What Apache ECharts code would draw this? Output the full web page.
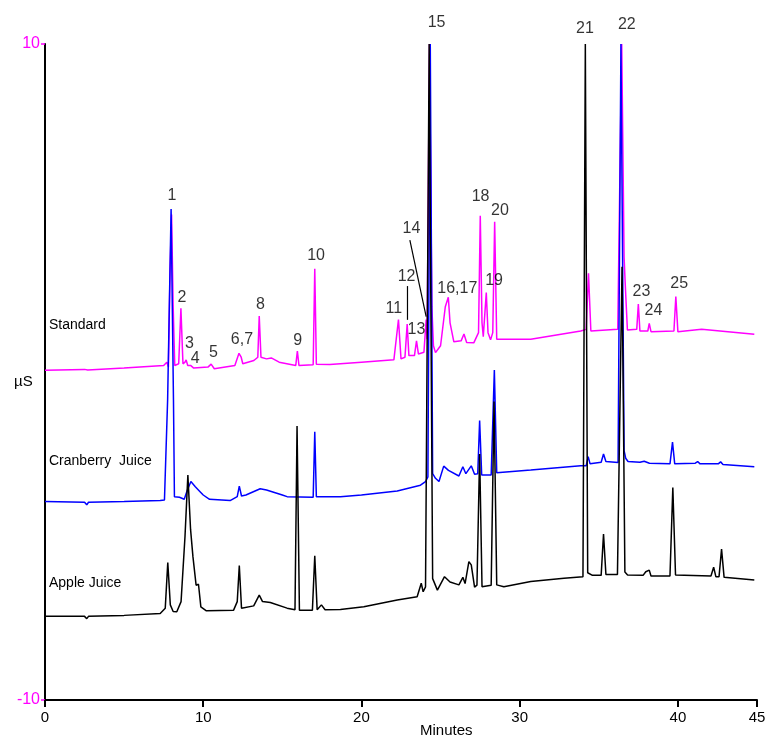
<!DOCTYPE html>
<html>
<head>
<meta charset="utf-8">
<title>Juice chromatograms</title>
<script src="https://cdn.jsdelivr.net/npm/echarts@6/dist/echarts.min.js"></script>
<style>
body { margin: 0; background: #fff; }
#chart { width: 768px; height: 740px; }
</style>
</head>
<body>
<div id="chart"></div>
<script>
// retention time (min), conductivity (µS)
var standardTrace = [
  [0,0.05],[2.5,0.08],[2.6,0.12],[2.7,0.06],[5,0.12],[7.5,0.2],[7.7,0.3],[7.8,0.15],[7.9,3],[8.0,4.8],[8.1,2],[8.2,0.2],
  [8.45,0.25],[8.59,1.94],[8.72,0.25],[8.85,0.3],[8.92,0.37],[9.02,0.2],[9.2,0.2],[9.28,0.23],[9.4,0.12],[10.3,0.15],
  [10.5,0.24],[10.7,0.1],[12.0,0.2],[12.26,0.57],[12.4,0.45],[12.5,0.25],[13.2,0.35],[13.45,0.45],[13.54,1.71],[13.65,0.45],
  [14.0,0.4],[14.3,0.43],[14.8,0.3],[15.85,0.2],[15.95,0.64],[16.05,0.2],[16.95,0.22],[17.05,3.15],[17.15,0.24],[18.0,0.23],
  [20,0.3],[22.05,0.37],[22.34,1.6],[22.5,0.4],[22.75,0.45],[22.89,1.46],[23.0,0.5],[23.35,0.5],[23.48,0.95],[23.6,0.55],
  [23.95,0.6],[24.09,1.6],[24.15,1.0],[24.3,10],[24.45,2.0],[24.55,0.8],[24.68,0.59],[25.0,0.8],[25.3,1.99],[25.49,2.28],
  [25.6,1.5],[25.84,0.92],[26.3,0.95],[26.48,1.16],[26.65,0.9],[27.1,0.89],[27.4,1.2],[27.51,4.76],[27.62,1.5],[27.7,1.08],
  [27.89,2.42],[28.0,1.2],[28.16,0.98],[28.3,1.2],[28.42,4.58],[28.55,1.0],[30.7,1.0],[33.86,1.25],[34.2,1.3],[34.35,3.01],
  [34.5,1.25],[36.2,1.3],[36.45,10],[36.6,3.5],[36.67,2.7],[36.81,1.28],[37.4,1.3],[37.5,2.07],[37.6,1.25],[38.1,1.25],
  [38.19,1.48],[38.3,1.23],[39.75,1.25],[39.87,2.3],[40.0,1.23],[41.5,1.3],[44.83,1.15]
];
var cranberryTrace = [
  [0,-3.95],[2.5,-3.97],[2.64,-4.05],[2.75,-3.97],[5,-3.95],[7.28,-3.92],[7.55,-3.9],[7.75,-0.85],[7.97,4.97],[8.12,-0.85],
  [8.18,-3.8],[8.5,-3.82],[8.8,-3.88],[9.0,-3.6],[9.22,-3.34],[9.5,-3.5],[9.8,-3.65],[10.0,-3.75],[10.4,-3.88],[11.7,-3.92],
  [12.15,-3.8],[12.28,-3.48],[12.42,-3.78],[12.7,-3.75],[13.6,-3.56],[14.0,-3.6],[15.0,-3.75],[15.3,-3.8],[16.95,-3.82],
  [17.05,-1.82],[17.15,-3.8],[18.67,-3.8],[20,-3.75],[22.26,-3.63],[23.73,-3.45],[24.05,-3.34],[24.2,-3.2],[24.35,10],
  [24.5,-3.1],[24.68,-3.24],[24.9,-3.34],[25.2,-2.87],[25.5,-3.0],[26.16,-3.17],[26.41,-2.89],[26.6,-3.1],[26.94,-2.86],
  [27.15,-3.12],[27.35,-3.1],[27.47,-1.48],[27.6,-3.14],[28.2,-3.14],[28.4,0.06],[28.55,-3.07],[30.7,-2.99],[33.86,-2.86],
  [34.2,-2.86],[34.33,-2.58],[34.45,-2.8],[35.15,-2.75],[35.3,-2.5],[35.45,-2.73],[36.22,-2.76],[36.4,10],[36.6,-2.4],
  [36.7,-2.63],[36.85,-2.73],[37.6,-2.75],[37.87,-2.72],[38.2,-2.78],[39.5,-2.8],[39.66,-2.14],[39.8,-2.8],[41.1,-2.78],
  [41.25,-2.73],[41.4,-2.8],[42.55,-2.8],[42.7,-2.74],[42.85,-2.82],[44.83,-2.89]
];
var appleTrace = [
  [0,-7.45],[2.5,-7.45],[2.64,-7.52],[2.75,-7.45],[5,-7.42],[7.28,-7.36],[7.6,-7.2],[7.76,-5.81],[7.92,-7.1],[8.1,-7.3],
  [8.33,-7.31],[8.6,-7.0],[8.85,-5.0],[9.03,-3.14],[9.2,-4.8],[9.35,-5.63],[9.55,-6.5],[9.7,-6.47],[9.85,-7.16],[10.2,-7.28],
  [11.92,-7.26],[12.15,-7.0],[12.28,-5.9],[12.42,-7.2],[13.19,-7.13],[13.54,-6.8],[13.75,-7.0],[14.24,-7.03],[15.3,-7.2],
  [15.8,-7.25],[15.93,-1.65],[16.08,-7.26],[16.9,-7.26],[17.05,-5.6],[17.2,-7.25],[17.47,-7.1],[17.7,-7.25],[18.67,-7.24],
  [20.15,-7.16],[22.26,-6.95],[23.52,-6.85],[23.78,-6.44],[23.9,-6.7],[24.05,-6.55],[24.28,10],[24.5,-6.3],[24.58,-6.39],
  [24.8,-6.65],[25.25,-6.24],[25.6,-6.4],[26.16,-6.49],[26.41,-6.26],[26.55,-6.45],[26.79,-5.78],[26.94,-5.88],[27.15,-6.56],
  [27.3,-6.5],[27.47,-2.5],[27.62,-6.55],[28.2,-6.5],[28.38,-0.9],[28.55,-6.49],[29.0,-6.55],[30.7,-6.39],[32.8,-6.29],
  [34.0,-6.24],[34.15,10],[34.3,-6.12],[34.6,-6.2],[35.15,-6.2],[35.3,-4.94],[35.45,-6.17],[36.18,-6.17],[36.47,3.21],
  [36.65,-6.1],[36.82,-6.19],[37.8,-6.2],[37.97,-6.09],[38.19,-6.04],[38.3,-6.22],[39.5,-6.22],[39.68,-3.52],[39.85,-6.19],
  [42.09,-6.22],[42.26,-5.95],[42.4,-6.24],[42.6,-6.24],[42.76,-5.4],[42.92,-6.26],[44.83,-6.34]
];

// peak numbers and where their labels sit (min, µS)
var peakNames = ['1','2','3','4','5','6,7','8','9','10','11','12','13','14','15','16,17','18','19','20','21','22','23','24','25'];
var peakLabelAt = [
  [8.02,5.37],[8.65,2.28],[9.13,0.87],[9.49,0.42],[10.65,0.59],[12.45,0.98],[13.61,2.07],[15.97,0.95],[17.13,3.54],
  [22.05,1.94],[22.85,2.91],[23.48,1.28],[23.16,4.38],[24.75,10.64],[26.06,2.54],[27.53,5.34],[28.38,2.8],[28.75,4.92],
  [34.13,10.48],[36.77,10.58],[37.7,2.45],[38.46,1.87],[40.08,2.7]
];
var leader12 = [[22.91,1.59],[22.91,2.62]];
var leader14 = [[23.06,4.02],[24.09,1.69]];

var xTicks = [0, 10, 20, 30, 40, 45];
var traceNames = ['Standard', 'Cranberry  Juice', 'Apple Juice'];

var chart = echarts.init(document.getElementById('chart'));

function trace(data, color) {
  return {
    type: 'line',
    data: data,
    showSymbol: false,
    symbol: 'none',
    animation: false,
    lineStyle: { color: color, width: 1.5 },
    z: 2
  };
}
function leader(data) {
  return {
    type: 'line',
    data: data,
    symbol: 'none',
    animation: false,
    clip: false,
    lineStyle: { color: '#000', width: 1.2 },
    z: 3
  };
}

chart.setOption({
  animation: false,
  textStyle: { fontFamily: 'Liberation Sans, Arial, sans-serif' },
  grid: { left: 45, right: 11, top: 44, bottom: 40, outerBoundsMode: 'none', containLabel: false },
  xAxis: {
    type: 'value',
    min: 0,
    max: 45,
    interval: 10,
    axisLine: { onZero: false, lineStyle: { color: '#000', width: 2 } },
    axisTick: { length: 7, lineStyle: { color: '#000', width: 2 } },
    axisLabel: {
      color: '#000', fontSize: 15, margin: 10, showMaxLabel: true,
      formatter: function (v) { return xTicks.indexOf(v) >= 0 ? String(v) : ''; }
    },
    splitLine: { show: false }
  },
  yAxis: {
    type: 'value',
    min: -10,
    max: 10,
    interval: 20,
    axisLine: { onZero: false, lineStyle: { color: '#000', width: 2 } },
    axisTick: { length: 4, lineStyle: { color: '#ff00ff', width: 1.5 } },
    axisLabel: { color: '#ff00ff', fontSize: 16, margin: 5 },
    splitLine: { show: false }
  },
  graphic: [
    { type: 'text', left: 14, top: 374, style: { text: 'µS', fill: '#000', font: '15px Liberation Sans' } },
    { type: 'text', left: 420, top: 723, style: { text: 'Minutes', fill: '#000', font: '15px Liberation Sans' } },
    { type: 'text', left: 49, top: 318, style: { text: traceNames[0], fill: '#000', font: '14px Liberation Sans' } },
    { type: 'text', left: 49, top: 454, style: { text: traceNames[1], fill: '#000', font: '14px Liberation Sans' } },
    { type: 'text', left: 49, top: 576, style: { text: traceNames[2], fill: '#000', font: '14px Liberation Sans' } }
  ],
  series: [
    trace(standardTrace, '#ff00ff'),
    trace(cranberryTrace, '#0000ff'),
    trace(appleTrace, '#000000'),
    leader(leader12),
    leader(leader14),
    {
      type: 'scatter',
      symbolSize: 0,
      clip: false,
      animation: false,
      data: peakLabelAt.map(function (p, i) { return { value: p, name: peakNames[i] }; }),
      label: {
        show: true,
        position: 'inside',
        formatter: '{b}',
        color: '#000',
        fontSize: 16
      },
      z: 4
    }
  ]
});
</script>
</body>
</html>
